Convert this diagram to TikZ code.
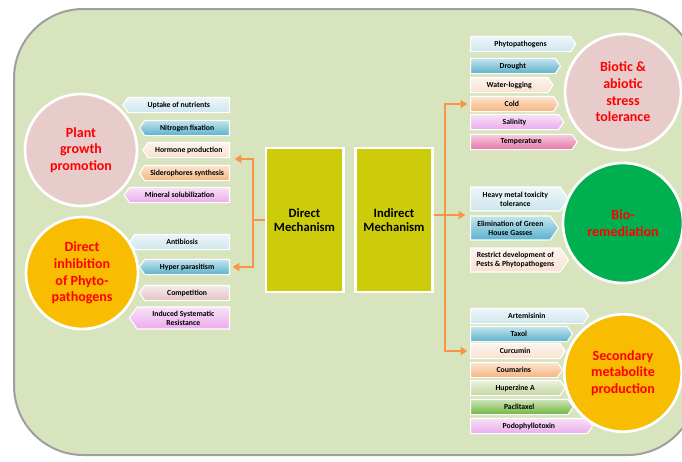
\documentclass[tikz,border=0pt]{standalone}
\usepackage{fontspec}
\setmainfont{Carlito}
\usetikzlibrary{shapes.symbols,arrows.meta}

\definecolor{bgcol}{RGB}{216,228,189}
\definecolor{mechcol}{RGB}{204,204,10}
\definecolor{linecol}{RGB}{247,150,70}
\definecolor{cblue}{RGB}{205,230,238}
\definecolor{cteal}{RGB}{90,178,204}
\definecolor{ccream}{RGB}{248,225,208}
\definecolor{corange}{RGB}{246,180,125}
\definecolor{cmagenta}{RGB}{236,170,236}
\definecolor{crose}{RGB}{228,196,196}
\definecolor{chot}{RGB}{230,115,165}
\definecolor{cpale}{RGB}{196,214,160}
\definecolor{cgreen}{RGB}{112,180,60}
\definecolor{ballpink}{RGB}{232,204,204}
\definecolor{ballamber}{RGB}{248,188,0}
\definecolor{ballgreen}{RGB}{0,176,80}

\begin{document}
\begin{tikzpicture}[x=0.75pt,y=-0.75pt,
    tag/.style={signal, signal pointer angle=110, draw=white, line width=0.8pt,
      top color=#1!35!white, bottom color=#1, minimum height=11.5pt, inner sep=1pt,
      font=\bfseries\fontsize{5.8}{6.6}\selectfont, align=center},
    ltag/.style={tag=#1, signal to=west, anchor=east},
    rtag/.style={tag=#1, signal to=east, anchor=west},
    ball/.style={circle, draw=white, line width=2pt, fill=#1, text=red,
      font=\bfseries\fontsize{10.5}{12.5}\selectfont, align=center},
    mech/.style={draw=white, line width=2pt, fill=mechcol, minimum width=58pt,
      minimum height=108pt, font=\bfseries\fontsize{9.5}{11}\selectfont, align=center},
    conn/.style={draw=linecol, line width=2pt},
    arr/.style={conn, -{Triangle[length=5pt,width=6pt]}, shorten >=2pt}]

  % frame
  \clip (0,0) rectangle (682,461);
  \draw[fill=bgcol, draw=gray!75, line width=1.5pt, rounded corners=52pt] (14,9) rectangle (697,455);

  % mechanisms
  \node[mech] (direct) at (304.5,220) {Direct\\Mechanism};
  \node[mech] (indirect) at (394,220) {Indirect\\Mechanism};

  % plant growth promotion
  \node[ltag=cblue, minimum width=80pt] (uptake) at (230,105) {Uptake of nutrients};
  \node[ltag=cteal, minimum width=67.5pt] (nitrogen) at (230,128) {Nitrogen fixation};
  \node[ltag=ccream, minimum width=65pt] (hormone) at (230,150) {Hormone production};
  \node[ltag=corange, minimum width=67.5pt] (sidero) at (230,173) {Siderophores synthesis};
  \node[ltag=cmagenta, minimum width=79pt] (mineral) at (230,195) {Mineral solubilization};
  \node[ball=ballpink, minimum size=84pt] (plant) at (81,150) {Plant\\growth\\promotion};

  % direct inhibition
  \node[ltag=cblue, minimum width=75pt] (antibiosis) at (230,242) {Antibiosis};
  \node[ltag=cteal, minimum width=67.5pt] (hyper) at (230,267) {Hyper parasitism};
  \node[ltag=crose, minimum width=67.5pt] (competition) at (230,293) {Competition};
  \node[ltag=cmagenta, minimum width=75pt, minimum height=16.5pt] (induced) at (230,318) {Induced Systematic\\Resistance};
  \node[ball=ballamber, minimum size=84pt] (inhibit) at (82,273) {Direct\\inhibition\\of Phyto-\\pathogens};

  % stress tolerance
  \node[rtag=cblue, minimum width=79pt] (phyto) at (470,44) {Phytopathogens};
  \node[rtag=cteal, minimum width=67.5pt] (drought) at (470,66) {Drought};
  \node[rtag=ccream, minimum width=62pt] (waterlog) at (470,85) {Water-logging};
  \node[rtag=corange, minimum width=66pt] (cold) at (470,104) {Cold};
  \node[rtag=cmagenta, minimum width=70pt] (salinity) at (470,122) {Salinity};
  \node[rtag=chot, minimum width=80pt] (temp) at (470,142) {Temperature};
  \node[ball=ballpink, minimum size=87pt] (stress) at (623,92) {Biotic \&\\abiotic\\stress\\tolerance};

  % bioremediation
  \node[rtag=cblue, minimum width=73.5pt, minimum height=18pt] (heavy) at (470,199) {Heavy metal toxicity\\tolerance};
  \node[rtag=cteal, minimum width=66pt, minimum height=18pt] (elim) at (470,228) {Elimination of Green\\House Gasses};
  \node[rtag=ccream, minimum width=73.5pt, minimum height=18pt] (restrict) at (470,260) {Restrict development of\\Pests \& Phytopathogens};
  \node[ball=ballgreen, minimum size=90pt] (remed) at (623,223) {Bio-\\remediation};

  % secondary metabolites
  \node[rtag=cblue, minimum width=88.5pt] (artem) at (470,316) {Artemisinin};
  \node[rtag=cteal, minimum width=76.5pt] (taxol) at (470,334) {Taxol};
  \node[rtag=ccream, minimum width=71pt] (curcumin) at (470,351) {Curcumin};
  \node[rtag=corange, minimum width=69pt] (coumarin) at (470,370) {Coumarins};
  \node[rtag=cpale, minimum width=71pt] (huperzine) at (470,388) {Huperzine A};
  \node[rtag=cgreen, minimum width=77pt] (paclitaxel) at (470,407) {Paclitaxel};
  \node[rtag=cmagenta, minimum width=91.5pt] (podo) at (470,426) {Podophyllotoxin};
  \node[ball=ballamber, minimum size=88pt] (second) at (623,373) {Secondary\\metabolite\\production};

  % connectors
  \coordinate (lj) at (253,220);
  \coordinate (ltop) at (232,159);
  \draw[conn] (direct.west) -- (lj);
  \draw[arr] (lj) |- (ltop);
  \draw[arr] (lj) |- (hyper.east);

  \coordinate (rj) at (445,215);
  \coordinate (rmid) at (468,215);
  \draw[conn] (indirect.east |- rj) -- (rj);
  \draw[arr] (rj) |- (cold.west);
  \draw[arr] (rj) -- (rmid);
  \draw[arr] (rj) |- (curcumin.west);
\end{tikzpicture}
\end{document}
